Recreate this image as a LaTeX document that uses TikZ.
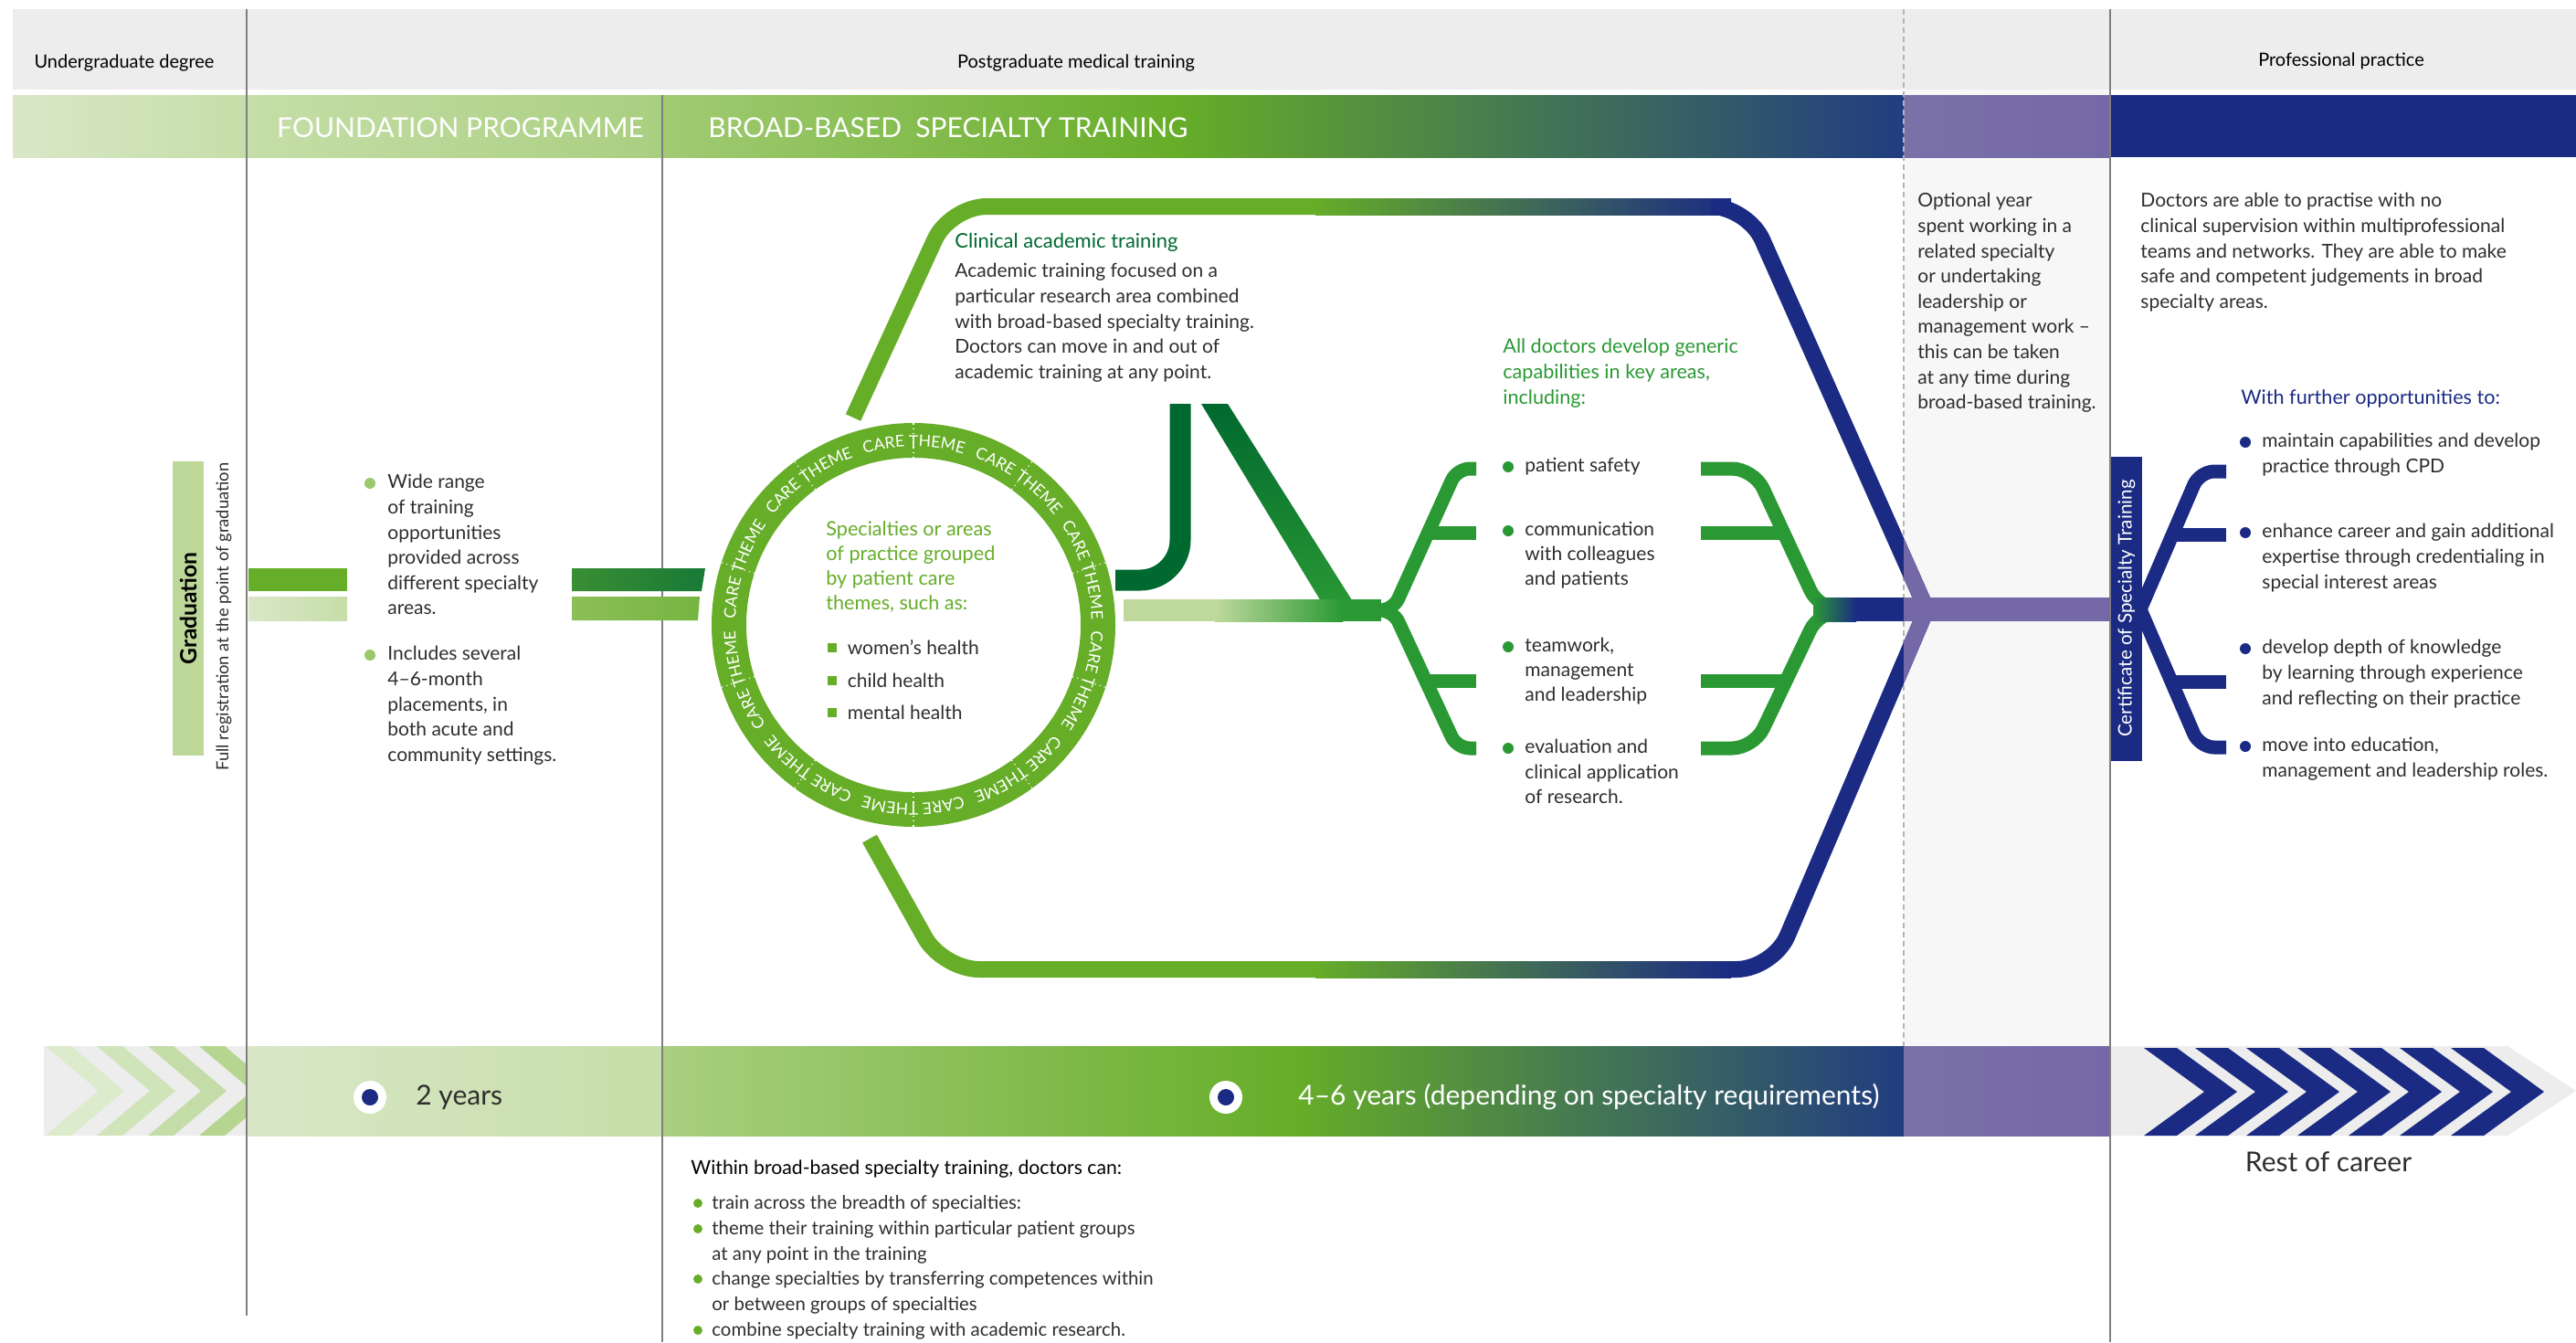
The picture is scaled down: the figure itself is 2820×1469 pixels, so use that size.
\documentclass[tikz,border=0pt]{standalone}
\usepackage{fontspec}
\setmainfont{Lato}
\usetikzlibrary{positioning,decorations.text}

\definecolor{hdrgray}{HTML}{ECEDEC}
\definecolor{colgray}{HTML}{F7F7F7}
\definecolor{rulegray}{HTML}{7F7F7F}
\definecolor{dashgray}{HTML}{B5B5B5}
\definecolor{txtgray}{HTML}{2E2E2E}
\definecolor{fpgreen}{HTML}{66AD28}
\definecolor{capgreen}{HTML}{2A9934}
\definecolor{acadgreen}{HTML}{00692F}
\definecolor{gradgreen}{HTML}{BDD899}
\definecolor{dotgreen}{HTML}{9BC86A}
\definecolor{navy}{HTML}{1B2B84}
\definecolor{optpurple}{HTML}{7468A6}
\definecolor{optlilac}{HTML}{7B71A9}
\definecolor{paleA}{HTML}{D9E7C7}
\definecolor{paleB}{HTML}{C6DEA8}
\definecolor{paleC}{HTML}{A9CF80}
\definecolor{paleD}{HTML}{A2CB74}
\definecolor{bandnavy}{HTML}{213D80}
\definecolor{trunkpale}{HTML}{BFD99C}
\definecolor{fpdarkA}{HTML}{3A8E34}
\definecolor{fpdarkB}{HTML}{187A36}
\definecolor{fplightA}{HTML}{8CBF57}
\definecolor{fplightB}{HTML}{76B541}
\definecolor{chevA}{HTML}{DCEBCB}
\definecolor{chevB}{HTML}{D0E4BA}
\definecolor{chevC}{HTML}{C4DDA8}
\definecolor{chevD}{HTML}{B6D590}

\newcommand{\carefont}{\color{white}\fontsize{8.8}{10}\selectfont}

\tikzset{
	hdr/.style={inner sep=0, text=black, font=\fontsize{10}{12}\selectfont},
	bantxt/.style={inner sep=0, text=white, font=\fontsize{15}{18}\selectfont},
	body/.style={inner sep=0, anchor=north west, align=left, text=txtgray, font=\fontsize{10.5}{13.8}\selectfont},
	body1/.style={inner sep=0, text=txtgray, font=\fontsize{10.5}{13.8}\selectfont},
	bbody/.style={body, font=\fontsize{10.2}{14}\selectfont},
	bigtxt/.style={inner sep=0, font=\fontsize{15}{18}\selectfont},
	fdot/.style={circle, fill=dotgreen, inner sep=0, minimum size=6pt},
	cdot/.style={circle, fill=capgreen, inner sep=0, minimum size=6pt},
	ndot/.style={circle, fill=navy, inner sep=0, minimum size=6pt},
	bdot/.style={circle, fill=fpgreen, inner sep=0, minimum size=5pt},
	gsq/.style={rectangle, fill=fpgreen, inner sep=0, minimum size=5pt},
	vbar/.style={rotate=90, inner sep=0, minimum height=17pt},
	rule/.style={rulegray, line width=0.9pt},
	hexline/.style={line width=9pt},
	capline/.style={capgreen, line width=7.5pt},
	navyline/.style={navy, line width=7.5pt},
	markw/.style={circle, fill=white, inner sep=0, minimum size=18pt},
	markn/.style={circle, fill=navy, inner sep=0, minimum size=9pt}
}

\begin{document}
\begin{tikzpicture}[x=0.5pt, y=-0.5pt]
	\useasboundingbox[fill=white] (0,0) rectangle (2820,1469);
	% header strip and optional-year column
	\fill[hdrgray] (14,10) rectangle (2820,98);
	\fill[colgray] (2084,98) rectangle (2310,1145);
	% top banner
	\shade[left color=paleA, right color=paleB] (14,104) rectangle (270,172);
	\shade[left color=paleB, right color=paleC] (270,104) rectangle (725,172);
	\shade[left color=paleD, right color=fpgreen] (725,104) rectangle (1290,172);
	\shade[left color=fpgreen, right color=bandnavy] (1290,104) rectangle (2084,172);
	\shade[left color=optlilac, right color=optpurple] (2084,104) rectangle (2310,172);
	\fill[navy] (2310,104) rectangle (2820,172);

	% bottom time band
	\fill[hdrgray] (48,1145) rectangle (270,1243);
	\begin{scope}
		\clip (48,1145) rectangle (270,1243);
		\foreach \k/\c in {0/chevA,1/chevB,2/chevC,3/chevD}
			\fill[\c] ({50+56*\k},1145) -- ++(28,0) -- ++(58,49) -- ++(-58,49) -- ++(-28,0) -- ++(58,-49) -- cycle;
	\end{scope}
	\shade[left color=paleA, right color=paleB] (270,1145) rectangle (725,1243);
	\shade[left color=paleC, right color=fpgreen] (725,1145) rectangle (1420,1243);
	\shade[left color=fpgreen, right color=bandnavy] (1420,1145) rectangle (2084,1243);
	\shade[left color=optlilac, right color=optpurple] (2084,1145) rectangle (2310,1243);
	\fill[hdrgray] (2310,1145) -- (2745,1145) -- (2820,1194) -- (2745,1243) -- (2310,1243) -- cycle;
	\foreach \k in {0,...,6}
		\fill[navy] ({2347+56*\k},1147) -- ++(36,0) -- ++(66,48) -- ++(-66,48) -- ++(-36,0) -- ++(66,-48) -- cycle;

	% column rules
	\draw[rule] (270,10) -- (270,1440);
	\draw[rule] (725,104) -- (725,1469);
	\draw[rule] (2310,10) -- (2310,1469);
	\draw[dashgray, line width=0.7pt, dash pattern=on 3pt off 2pt] (2084,10) -- (2084,1145);

	% headings
	\node[hdr] (ugrad) at (136,69) {Undergraduate degree};
	\node[hdr] (pgrad) at (1178,69) {Postgraduate medical training};
	\node[hdr] (prof) at (2563,67) {Professional practice};
	\node[bantxt] (fpban) at (504,140) {FOUNDATION PROGRAMME};
	\node[bantxt, anchor=west] (bbst) at (775,140) {BROAD-BASED\ \ SPECIALTY TRAINING};

	% graduation
	\node[vbar, fill=gradgreen, minimum width=161pt, font=\bfseries\fontsize{12.3}{14}\selectfont] (grad) at (206,666) {Graduation};
	\node[inner sep=0, rotate=90, text=txtgray, font=\fontsize{9.2}{10}\selectfont] (fullreg) at (245,675) {Full registration at the point of graduation};

	% foundation bars
	\fill[fpgreen] (272,622) rectangle (380,647);
	\shade[left color=paleA, right color=paleB] (272,653) rectangle (380,679);
	\shade[left color=fpdarkA, right color=fpdarkB] (626,622) -- (772,622) -- (768,647) -- (626,647) -- cycle;
	\shade[left color=fplightA, right color=fplightB] (626,653) -- (766,653) -- (764,679) -- (626,679) -- cycle;

	\node[fdot] (fd1) at (405,529) {};
	\node[body] (fpwide) at (424,519) {Wide range\\of training\\opportunities\\provided across\\different specialty\\areas.};
	\node[fdot] (fd2) at (405,717) {};
	\node[body] (fpplace) at (424,707) {Includes several\\4--6-month\\placements, in\\both acute and\\community settings.};

	% pathway outline
	\coordinate (vtx) at (2109,667);
	\draw[hexline, fpgreen, rounded corners=20pt] (934,457) -- (1040,226) -- (1445,226);
	\draw[hexline, fpgreen, rounded corners=20pt] (952,918) -- (1032,1061) -- (1445,1061);
	\shade[left color=fpgreen, right color=navy] (1440,217) rectangle (1895,235);
	\shade[left color=fpgreen, right color=navy] (1440,1052) rectangle (1895,1070);
	\draw[hexline, navy, rounded corners=20pt] (1890,226) -- (1913,226) -- (vtx);
	\draw[hexline, navy, rounded corners=20pt] (vtx) -- (1941,1061) -- (1890,1061);

	% academic track
	\draw[acadgreen, line width=11.5pt, rounded corners=22pt] (1221,635) -- (1292,635) -- (1292,442);
	\shade[top color=acadgreen, bottom color=capgreen] (1315,442) -- (1344,442) -- (1487,668) -- (1452,668) -- cycle;

	% trunk and capability forks
	\fill[trunkpale] (1230,656) rectangle (1330,680);
	\shade[left color=trunkpale, right color=capgreen] (1330,656) rectangle (1470,680);
	\fill[capgreen] (1469,656) rectangle (1512,680);
	\coordinate (lfork) at (1525,668);
	\coordinate (rfork) at (1992,668);
	\draw[capline, rounded corners=7pt] (1500,668) -- (lfork) -- (1595,513) -- (1616,513);
	\draw[capline, rounded corners=7pt] (1500,668) -- (lfork) -- (1595,819) -- (1616,819);
	\draw[capline] (1562,583) -- (1616,583);
	\draw[capline] (1561,745) -- (1616,745);
	\draw[capline, rounded corners=12pt] (1862,513) -- (1920,513) -- (rfork) -- (2000,668);
	\draw[capline, rounded corners=12pt] (1862,819) -- (1920,819) -- (rfork) -- (2000,668);
	\draw[capline] (1862,583) -- (1955,583);
	\draw[capline] (1862,745) -- (1955,745);
	\shade[left color=capgreen, right color=navy] (1985,654) rectangle (2032,680);
	\fill[navy] (2030,654) rectangle (2085,680);

	% optional year overlay
	\begin{scope}
		\clip (2084,98) rectangle (2310,1145);
		\draw[hexline, optpurple, rounded corners=20pt] (1890,226) -- (1913,226) -- (vtx);
		\draw[hexline, optpurple, rounded corners=20pt] (vtx) -- (1941,1061) -- (1890,1061);
	\end{scope}
	\fill[optpurple] (2084,654) rectangle (2310,680);

	% care theme ring
	\begin{scope}[shift={(1000,684)}, y=0.5pt]
		\fill[white] (0,0) circle[radius=183];
		\draw[fpgreen, line width=19pt] (0,0) circle[radius=202];
		\foreach \k in {0,...,9}
			\draw[white, dotted, line width=0.6pt] ({90-36*\k}:183) -- ({90-36*\k}:221);
		\foreach \k in {0,...,9}
			\path[decorate, decoration={text along path, text align=fit to path, text={|\carefont|CARE THEME}}]
				({106-36*\k}:195) arc[start angle={106-36*\k}, end angle={74-36*\k}, radius=195];
	\end{scope}
	\node[body, text=fpgreen, font=\fontsize{10.8}{13.5}\selectfont] (ringtxt) at (904,570) {Specialties or areas\\of practice grouped\\by patient care\\themes, such as:};
	\node[gsq] (sq1) at (911,709) {};
	\node[gsq] (sq2) at (911,745) {};
	\node[gsq] (sq3) at (911,780) {};
	\node[body1, right=5.5pt of sq1] (whealth) {women's health};
	\node[body1, right=5.5pt of sq2] (chealth) {child health};
	\node[body1, right=5.5pt of sq3] (mhealth) {mental health};

	% clinical academic training
	\node[body, text=acadgreen, font=\fontsize{11}{13}\selectfont] (catitle) at (1045,255) {Clinical academic training};
	\node[body] (catext) at (1045,288) {Academic training focused on a\\particular research area combined\\with broad-based specialty training.\\Doctors can move in and out of\\academic training at any point.};

	% generic capabilities
	\node[body, text=capgreen, font=\fontsize{10.8}{14}\selectfont] (captitle) at (1645,370) {All doctors develop generic\\capabilities in key areas,\\including:};
	\node[cdot] (cd1) at (1651,511) {};
	\node[body1, anchor=west] (capsafe) at (1669,511) {patient safety};
	\node[cdot] (cd2) at (1651,581) {};
	\node[body, font=\fontsize{10.5}{13.4}\selectfont] (capcomm) at (1669,571) {communication\\with colleagues\\and patients};
	\node[cdot] (cd3) at (1651,708) {};
	\node[body, font=\fontsize{10.5}{13.4}\selectfont] (capteam) at (1669,698) {teamwork,\\management\\and leadership};
	\node[cdot] (cd4) at (1651,819) {};
	\node[body, font=\fontsize{10.5}{13.6}\selectfont] (capeval) at (1669,809) {evaluation and\\clinical application\\of research.};

	% optional year and professional practice
	\node[body] (optyear) at (2099,211) {Optional year\\spent working in a\\related specialty\\or undertaking\\leadership or\\management work --\\this can be taken\\at any time during\\broad-based training.};
	\node[body] (proftxt) at (2343,211) {Doctors are able to practise with no\\clinical supervision within multiprofessional\\teams and networks. They are able to make\\safe and competent judgements in broad\\specialty areas.};
	\node[body1, anchor=west, text=navy, font=\fontsize{10.8}{13}\selectfont] (furthtitle) at (2453,436) {With further opportunities to:};

	% certificate and further opportunities
	\coordinate (nfork) at (2343,667);
	\draw[navyline, rounded corners=8pt] (nfork) -- (2408,516) -- (2437,516);
	\draw[navyline, rounded corners=8pt] (nfork) -- (2408,818) -- (2437,818);
	\draw[navyline] (2377,585) -- (2437,585);
	\draw[navyline] (2377,746) -- (2437,746);
	\node[vbar, fill=navy, text=white, minimum width=166.5pt, font=\fontsize{10.3}{12}\selectfont] (cst) at (2328,666) {Certificate of Specialty Training};
	\node[ndot] (nd1) at (2458,484) {};
	\node[body] (furthcpd) at (2476,474) {maintain capabilities and develop\\practice through CPD};
	\node[ndot] (nd2) at (2458,583) {};
	\node[body] (furthcred) at (2476,573) {enhance career and gain additional\\expertise through credentialing in\\special interest areas};
	\node[ndot] (nd3) at (2458,710) {};
	\node[body] (furthdepth) at (2476,700) {develop depth of knowledge\\by learning through experience\\and reflecting on their practice};
	\node[ndot] (nd4) at (2458,817) {};
	\node[body] (furthedu) at (2476,807) {move into education,\\management and leadership roles.};

	% durations
	\node[markw] (mw1) at (405,1201) {};
	\node[markn] (mn1) at (mw1) {};
	\node[bigtxt, anchor=west, text=txtgray] (yrs2) at (455,1201) {2 years};
	\node[markw] (mw2) at (1342,1201) {};
	\node[markn] (mn2) at (mw2) {};
	\node[bigtxt, anchor=west, text=white] (yrs46) at (1421,1201) {4--6 years (depending on specialty requirements)};
	\node[bigtxt, text=txtgray] (restcar) at (2549,1272) {Rest of career};

	% within broad-based training
	\node[body1, anchor=west, text=black, font=\fontsize{10.6}{12}\selectfont] (bbtitle) at (756,1280) {Within broad-based specialty training, doctors can:};
	\node[bdot] (bd1) at (764,1317) {};
	\node[bbody] (bb1) at (779,1308) {train across the breadth of specialties:};
	\node[bdot] (bd2) at (764,1345) {};
	\node[bbody] (bb2) at (779,1336) {theme their training within particular patient groups\\at any point in the training};
	\node[bdot] (bd3) at (764,1400) {};
	\node[bbody] (bb3) at (779,1391) {change specialties by transferring competences within\\or between groups of specialties};
	\node[bdot] (bd4) at (764,1456) {};
	\node[bbody] (bb4) at (779,1447) {combine specialty training with academic research.};
\end{tikzpicture}
\end{document}
